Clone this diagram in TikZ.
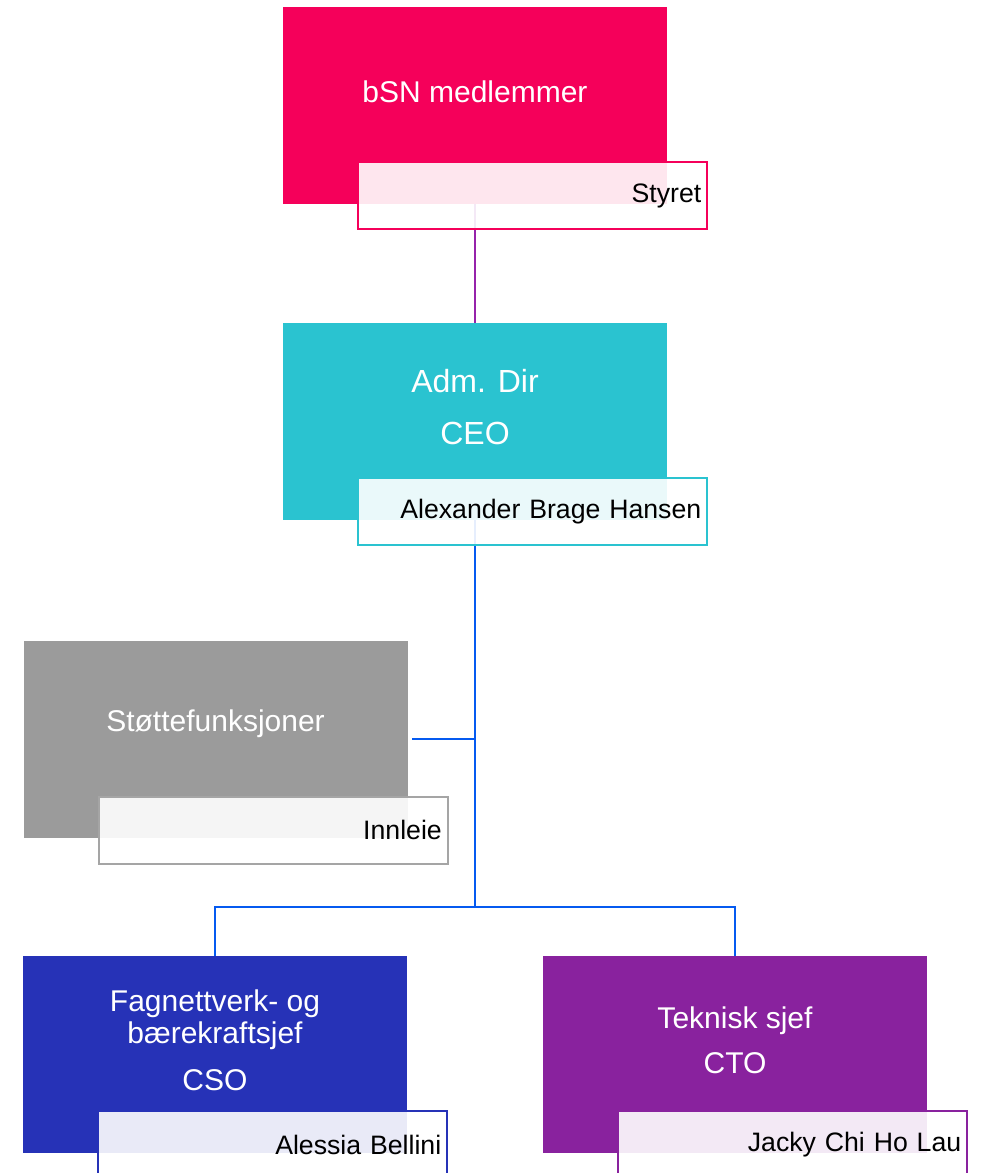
\documentclass[tikz,border=0pt]{standalone}
\usepackage{fontspec}
\setmainfont{Liberation Sans}
\usetikzlibrary{positioning}
\usetikzlibrary{calc}
\definecolor{bsnpink}{RGB}{245,0,90}
\definecolor{ceoteal}{RGB}{42,195,208}
\definecolor{supgray}{RGB}{155,155,155}
\definecolor{csoblue}{RGB}{38,50,183}
\definecolor{ctopurple}{RGB}{137,34,158}
\definecolor{linkblue}{RGB}{5,90,240}
\definecolor{linkpurple}{RGB}{150,35,170}

\begin{document}
\begin{tikzpicture}[x=0.75pt,y=0.75pt,yscale=-1,xscale=1,
  mainbox/.style={fill=#1, minimum width=288pt, minimum height=147.75pt, inner sep=0pt},
  subbox/.style={draw=#1, line width=1.5pt, fill=white, fill opacity=0.9, text opacity=1, anchor=north east, text width=252.75pt, align=right, inner xsep=4.5pt, inner ysep=0pt, minimum height=50.25pt, font=\fontsize{20}{24}\selectfont},
  headtxt/.style={text=white, align=center, inner sep=0pt, font=\fontsize{22.5}{24}\selectfont},
  link/.style={line width=2.1pt, color=#1}]
\clip (0,0) rectangle (982,1173);

%Shape: Rectangle
\node [mainbox=bsnpink] (bsn) at (475,105.5) {};
\node [mainbox=ceoteal] (ceo) at (475,421.5) {};
\node [mainbox=supgray] (stotte) at (215.5,739) {};
\node [mainbox=csoblue] (cso) at (215,1054.5) {};
\node [mainbox=ctopurple] (cto) at (735,1054.5) {};

% Text Node
\node [headtxt] (bsn-t) at ($(bsn.center)+(0,-14)$) {bSN medlemmer};
\node [headtxt, font=\fontsize{24}{24}\selectfont] (ceo-t) at ($(ceo.center)+(0,-14)$) {Adm. Dir\\[15pt]CEO};
\node [headtxt] (stotte-t) at ($(stotte.center)+(0,-15)$) {Støttefunksjoner};
\node [headtxt] (cso-t) at ($(cso.center)+(0,-14)$) {Fagnettverk- og\\bærekraftsjef\\[11pt]CSO};
\node [headtxt] (cto-t) at ($(cto.center)+(0,-14)$) {Teknisk sjef\\[10pt]CTO};

%Straight Lines
\coordinate (bar) at (475,907);
\draw [link=linkpurple] (bsn.south) -- (ceo.north);
\draw [link=linkblue, shorten >=3pt] (ceo.south) |- (stotte.east);
\draw [link=linkblue] (ceo.south) -- (bar);
\draw [link=linkblue] (cso.north) |- (bar) -| (cto.north);

%Shape: Rectangle
\node [subbox=bsnpink] (bsn-s) at ($(bsn.south east)+(41,-43)$) {Styret};
\node [subbox=ceoteal] (ceo-s) at ($(ceo.south east)+(41,-43)$) {Alexander Brage Hansen};
\node [subbox=supgray!90] (stotte-s) at ($(stotte.south east)+(41,-42)$) {Innleie};
\node [subbox=csoblue] (cso-s) at ($(cso.south east)+(41,-43)$) {Alessia Bellini};
\node [subbox=ctopurple] (cto-s) at ($(cto.south east)+(41,-43)$) {Jacky Chi Ho Lau};

\end{tikzpicture}
\end{document}
